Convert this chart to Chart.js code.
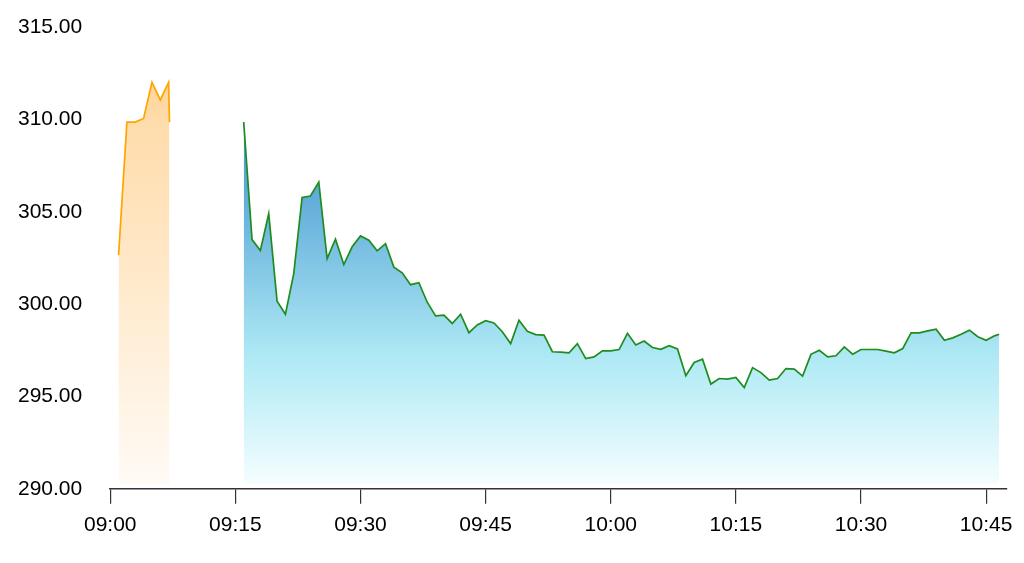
<!DOCTYPE html>
<html>
<head>
<meta charset="utf-8">
<script src="https://cdn.jsdelivr.net/npm/chart.js@4/dist/chart.umd.min.js"></script>
<style>
  html, body { margin: 0; padding: 0; background: #fff; }
  #wrap { width: 1024px; height: 563px; }
</style>
</head>
<body>
<div id="wrap"><canvas id="chart"></canvas></div>
<script>
// pre-open series (orange)
const preTimes = ['09:01', '09:02', '09:03', '09:04', '09:05', '09:06', '09:07', '09:07:06'];
const preValues = [302.65, 309.85, 309.85, 310.05, 312.0, 311.05, 312.0, 309.85];

// session series (green line, blue fill)
const mainTimes = [
  '09:16', '09:17', '09:18', '09:19', '09:20', '09:21', '09:22', '09:23', '09:24', '09:25',
  '09:26', '09:27', '09:28', '09:29', '09:30', '09:31', '09:32', '09:33', '09:34', '09:35',
  '09:36', '09:37', '09:38', '09:39', '09:40', '09:41', '09:42', '09:43', '09:44', '09:45',
  '09:46', '09:47', '09:48', '09:49', '09:50', '09:51', '09:52', '09:53', '09:54', '09:55',
  '09:56', '09:57', '09:58', '09:59', '10:00', '10:01', '10:02', '10:03', '10:04', '10:05',
  '10:06', '10:07', '10:08', '10:09', '10:10', '10:11', '10:12', '10:13', '10:14', '10:15',
  '10:16', '10:17', '10:18', '10:19', '10:20', '10:21', '10:22', '10:23', '10:24', '10:25',
  '10:26', '10:27', '10:28', '10:29', '10:30', '10:31', '10:32', '10:33', '10:34', '10:35',
  '10:36', '10:37', '10:38', '10:39', '10:40', '10:41', '10:42', '10:43', '10:44', '10:45',
  '10:46', '10:46:33'
];
const mainValues = [
  309.86, 303.49, 302.90, 304.90, 300.16, 299.45, 301.65, 305.77, 305.85, 306.60,
  302.46, 303.51, 302.14, 303.10, 303.69, 303.46, 302.88, 303.27, 302.00, 301.69,
  301.05, 301.16, 300.10, 299.36, 299.40, 298.95, 299.45, 298.45, 298.87, 299.10,
  298.98, 298.50, 297.86, 299.13, 298.53, 298.35, 298.32, 297.42, 297.40, 297.36,
  297.86, 297.05, 297.14, 297.47, 297.47, 297.54, 298.42, 297.79, 298.00, 297.65,
  297.55, 297.75, 297.57, 296.12, 296.84, 297.02, 295.67, 295.97, 295.94, 296.03,
  295.48, 296.56, 296.29, 295.88, 295.97, 296.51, 296.48, 296.10, 297.28, 297.50,
  297.14, 297.20, 297.68, 297.29, 297.54, 297.54, 297.54, 297.45, 297.36, 297.59,
  298.44, 298.44, 298.55, 298.64, 298.04, 298.17, 298.37, 298.59, 298.23, 298.04,
  298.28, 298.37
];

const xTickTimes = ['09:00', '09:15', '09:30', '09:45', '10:00', '10:15', '10:30', '10:45'];
const xEndTime = '10:47:30';
const yTicks = [290, 295, 300, 305, 310, 315];

// minutes since 09:00
function toMinutes(t) {
  const [h, m, s = 0] = t.split(':').map(Number);
  return (h - 9) * 60 + m + s / 60;
}
function toLabel(v) {
  const h = 9 + Math.floor(v / 60);
  const m = Math.round(v % 60);
  return String(h).padStart(2, '0') + ':' + String(m).padStart(2, '0');
}

function gradient(topValue, stops) {
  return (ctx) => {
    const chart = ctx.chart;
    const area = chart.chartArea;
    if (!area) return null;
    const top = chart.scales.y.getPixelForValue(topValue);
    const g = chart.ctx.createLinearGradient(0, top, 0, area.bottom);
    stops.forEach(([p, c]) => g.addColorStop(p, c));
    return g;
  };
}

const font = { family: '"Liberation Sans", Arial, sans-serif', size: 21 };
// fills stop a few px above the axis line, like the original
const fillBase = { value: 290.27 };

new Chart(document.getElementById('chart'), {
  type: 'line',
  data: {
    datasets: [
      {
        data: preTimes.map((t, i) => ({ x: toMinutes(t), y: preValues[i] })),
        borderColor: '#ffa500',
        borderWidth: 1.7,
        backgroundColor: gradient(312.5, [[0, '#ffd297'], [0.12, '#ffdcab'], [1, '#fffbf6']]),
        fill: fillBase,
        pointRadius: 0,
        tension: 0,
      },
      {
        data: mainTimes.map((t, i) => ({ x: toMinutes(t), y: mainValues[i] })),
        borderColor: '#1f8c1f',
        borderWidth: 1.7,
        backgroundColor: gradient(310, [[0, '#4b97d1'], [0.18, '#5ca8d8'], [0.65, '#b0eaf5'], [1, '#f7feff']]),
        fill: fillBase,
        pointRadius: 0,
        tension: 0,
      }
    ]
  },
  options: {
    responsive: true,
    maintainAspectRatio: false,
    animation: false,
    layout: { padding: { left: -10, top: 27, right: 17, bottom: 16 } },
    plugins: {
      legend: { display: false },
      tooltip: { enabled: false },
    },
    scales: {
      x: {
        type: 'linear',
        min: 0,
        max: toMinutes(xEndTime),
        afterBuildTicks: (scale) => { scale.ticks = xTickTimes.map(t => ({ value: toMinutes(t) })); },
        grid: { display: true, drawOnChartArea: false, drawTicks: true, tickLength: 15, color: '#333', lineWidth: 1.2 },
        border: { display: true, color: '#333', width: 1.5 },
        ticks: { color: '#000', font, padding: 9, autoSkip: false, maxRotation: 0, callback: v => toLabel(v) },
      },
      y: {
        min: yTicks[0],
        max: yTicks[yTicks.length - 1],
        afterBuildTicks: (scale) => { scale.ticks = yTicks.map(v => ({ value: v })); },
        // the big label gap should not push the plot down
        afterFit: (scale) => { scale.paddingTop = 0; scale.paddingBottom = 0; },
        grid: { display: false, drawTicks: false },
        border: { display: false },
        ticks: { color: '#000', font, padding: 28, callback: v => v.toFixed(2) },
      }
    }
  }
});
</script>
</body>
</html>
